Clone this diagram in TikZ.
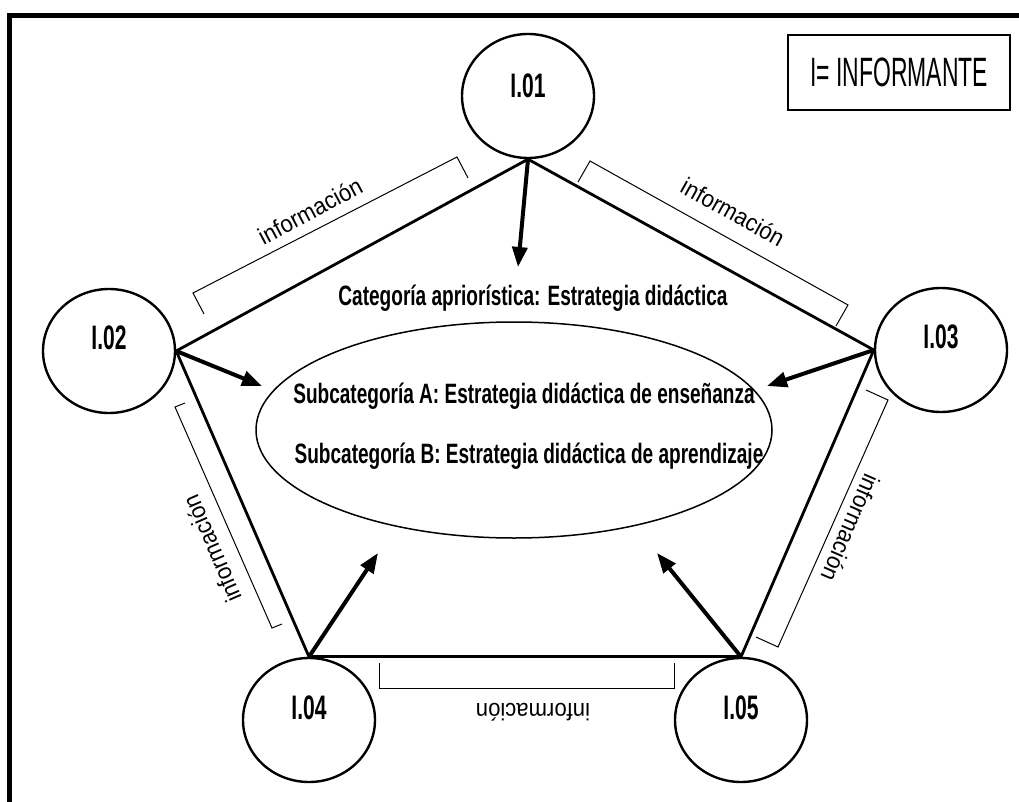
\documentclass[tikz,border=0pt]{standalone}
\usepackage{fontspec}
\setmainfont{Liberation Sans}
\newfontfamily\mainB{Liberation Sans}[FakeStretch=0.68]
\newfontfamily\circB{Liberation Sans}[FakeStretch=0.62]
\newfontfamily\legR{Liberation Sans}[FakeStretch=0.56]
\newfontfamily\infoR{Liberation Sans}[FakeStretch=0.92]
\usetikzlibrary{shapes.geometric,arrows.meta,calc}
\tikzset{
  circ/.style={ellipse,draw,line width=2.4pt,minimum width=132pt,minimum height=124pt,inner sep=0pt},
  clab/.style={anchor=base,inner sep=0pt,font=\circB\bfseries\fontsize{34}{36}\selectfont},
  edge/.style={line width=2.8pt},
  arr/.style={line width=4pt,-{Triangle[length=20pt,width=15pt]}},
  maintxt/.style={anchor=base,inner sep=0pt,font=\mainB\bfseries\fontsize{28}{30}\selectfont},
  brk/.style={line width=1pt},
  info/.style={inner sep=0pt,font=\infoR\fontsize{24}{26}\selectfont},
}
\begin{document}
\begin{tikzpicture}[x=1pt,y=-1pt]
\useasboundingbox (0,0) rectangle (1019,802);
% frame
\draw[line width=5pt] (9,812) -- (9,15.5) -- (1030,15.5);
% legend
\node[draw,line width=1.1pt,minimum width=222pt,minimum height=75pt,inner sep=0pt,
      font=\legR\fontsize{41}{44}\selectfont] (leg) at (899,72.5) {I= INFORMANTE};
% informant circles
\node[circ] (c1) at (528,96) {};
\node[circ] (c2) at (109,351) {};
\node[circ] (c3) at (941,350) {};
\node[circ] (c4) at (309,720) {};
\node[circ] (c5) at (741,720) {};
\node[clab] (l1) at ([yshift=-2pt]c1.center) {I.01};
\node[clab] (l2) at ([yshift=2pt]c2.center) {I.02};
\node[clab] (l3) at ([yshift=2pt]c3.center) {I.03};
\node[clab] (l4) at ([yshift=1pt]c4.center) {I.04};
\node[clab] (l5) at ([yshift=1pt]c5.center) {I.05};
% central ellipse and texts
\node[ellipse,draw,line width=1.5pt,minimum width=516pt,minimum height=216pt,inner sep=0pt] (ce) at (514,430) {};
\node[maintxt] (cat) at (533,305) {Categoría apriorística: Estrategia didáctica};
\node[maintxt] (sa) at (524,403) {Subcategoría A: Estrategia didáctica de enseñanza};
\node[maintxt] (sb) at (529,463) {Subcategoría B: Estrategia didáctica de aprendizaje};
% pentagon
\draw[edge] (c1.south) -- (c2.east);
\draw[edge] (c1.south) -- (c3.west);
\draw[edge] (c2.east) -- (c4.north);
\draw[edge] (c3.west) -- (c5.north);
\draw[edge] (c4.north) -- (c5.north);
% arrow tips
\coordinate (t1) at (518,267);
\coordinate (t2) at (262,386);
\coordinate (t3) at (767,386);
\coordinate (t4) at (378,553);
\coordinate (t5) at (657,553);
\draw[arr] (c1.south) -- (t1);
\draw[arr] (c2.east) -- (t2);
\draw[arr] (c3.west) -- (t3);
\draw[arr] (c4.north) -- (t4);
\draw[arr] (c5.north) -- (t5);
% brackets
\draw[brk] (204,314) -- (193,293) -- (457,157) -- (468,178);
\draw[brk] (578,182) -- (590,161) -- (848,305) -- (836,326);
\draw[brk] (866,390) -- (888,400) -- (778,647) -- (756,637);
\draw[brk] (185,403) -- (175,407) -- (272,628) -- (282,624);
\draw[brk] (379,663) -- (379,688) -- (674,688) -- (674,663);
% labels
\node[info,rotate=28] (i1) at (310,211) {información};
\node[info,rotate=-29] (i2) at (733,212) {información};
\node[info,rotate=-113.5] (i3) at (851,528) {información};
\node[info,rotate=113.5] (i4) at (212,549) {información};
\node[info,rotate=180] (i5) at (533,712) {información};
\end{tikzpicture}
\end{document}
